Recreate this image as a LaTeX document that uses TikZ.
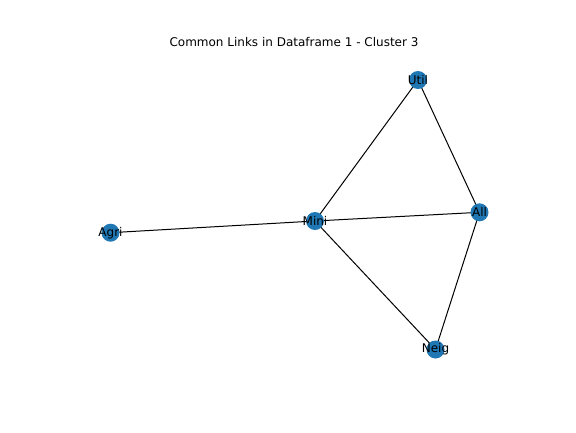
\documentclass[tikz,border=0pt]{standalone}
\usepackage{fontspec}
\setmainfont{DejaVu Sans}
\definecolor{mplblue}{HTML}{1F77B4}
\tikzset{
  vert/.style={circle, fill=mplblue, minimum size=18pt, inner sep=0pt},
  lab/.style={font=\fontsize{12}{12}\selectfont, text=black, inner sep=0pt},
  edge/.style={draw=black, line width=1pt}
}
\begin{document}
\begin{tikzpicture}[x=1pt,y=-1pt]
\useasboundingbox (0,0) rectangle (576,432);
\node[font=\fontsize{12}{12}\selectfont] (title) at (294,42.5) {Common Links in Dataframe 1 - Cluster 3};
\coordinate (u) at (418,80);
\coordinate (a) at (479.5,212.3);
\coordinate (m) at (315,221);
\coordinate (g) at (110.5,232.7);
\coordinate (n) at (435.5,349.5);
\draw[edge] (m) -- (u);
\draw[edge] (u) -- (a);
\draw[edge] (m) -- (a);
\draw[edge] (g) -- (m);
\draw[edge] (m) -- (n);
\draw[edge] (a) -- (n);
\node[vert] (U) at (u) {};
\node[vert] (A) at (a) {};
\node[vert] (M) at (m) {};
\node[vert] (G) at (g) {};
\node[vert] (N) at (n) {};
\node[lab] (Ut) at (u) {Util};
\node[lab] (At) at (a) {All};
\node[lab] (Mt) at (m) {Mini};
\node[lab] (Gt) at (g) {Agri};
\node[lab] (Nt) at (n) {Neig};
\end{tikzpicture}
\end{document}
